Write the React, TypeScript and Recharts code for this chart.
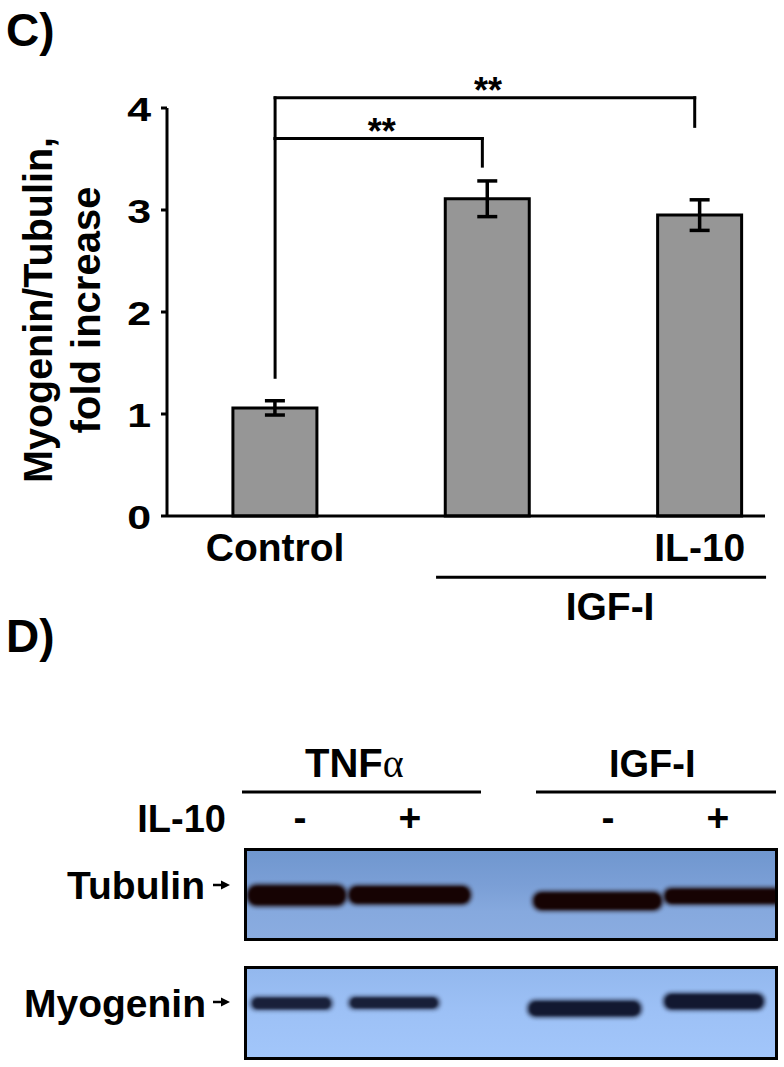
import React from "react"
import { ComposedChart, Bar, ErrorBar, XAxis, YAxis, ReferenceLine, ReferenceArea } from "recharts"

const FONT = '"Liberation Sans", Arial, Helvetica, sans-serif'

// panel C: myogenin / tubulin, fold increase
const groups = ["Control", "IGF-I", "IGF-I + IL-10"]
const tickLabels = ["Control", "", "IL-10"]
const foldIncrease = [1.06, 3.11, 2.95]
const foldErr = [0.07, 0.175, 0.15]
const yTicks = [0, 1, 2, 3, 4]

// significance brackets (y in fold units, x in group index)
const bracketRise = [1.36, 3.7]
const bracketTop = [3.7, 4.1]
const bracketEnd = [0.976, 1.976]
const bracketDrop = [3.43, 3.82]
const bracketStars = ["**", "**"]

// panel D: western blot, lanes
const laneTreatment = ["TNFα", "TNFα", "IGF-I", "IGF-I"]
const laneIL10 = ["-", "+", "-", "+"]
const lanePos = [0, 1, 2.8, 3.8]

// band extents: x in lane units, y in % of strip height from the top
const tubulinX1 = [-0.49, 0.43, 2.11, 3.3]
const tubulinX2 = [0.43, 1.56, 3.3, 4.4]
const tubulinY1 = [38, 39, 46, 42]
const tubulinY2 = [64, 62, 69, 62]
const tubulinDensity = [1, 1, 1, 1]

const myogeninX1 = [-0.455, 0.436, 2.064, 3.3]
const myogeninX2 = [0.3, 1.273, 3.109, 4.227]
const myogeninY1 = [31, 31, 35, 27]
const myogeninY2 = [47, 46, 55, 47]
const myogeninDensity = [0.82, 0.84, 0.97, 1]

const barData = groups.map((g, i) => ({ pos: i, name: g, value: foldIncrease[i], err: foldErr[i] }))
const laneData = lanePos.map((p, i) => ({ pos: p, il10: laneIL10[i], treatment: laneTreatment[i] }))

const TXT = { fontFamily: FONT, fontWeight: 700, fill: "#000" }

function XTick({ x, y, payload }: any) {
  return (
    <text x={x} y={y + 45} textAnchor="middle" fontSize={39} {...TXT}>
      {tickLabels[payload.value]}
    </text>
  )
}

function YTick({ x, y, payload }: any) {
  return (
    <text transform={`translate(${x},${y}) scale(1.3,1)`} textAnchor="end" dy="0.4em" fontSize={33} {...TXT}>
      {payload.value}
    </text>
  )
}

const renderYLabel = () => (
  <g fontSize={40} {...TXT}>
    <text x={52} y={310} transform="rotate(-90 52 310)" textAnchor="middle" textLength={346} lengthAdjust="spacingAndGlyphs">
      Myogenin/Tubulin,
    </text>
    <text x={100} y={310} transform="rotate(-90 100 310)" textAnchor="middle">
      fold increase
    </text>
  </g>
)

const starLabel = (s: string) => (p: any) => {
  const vb = p.viewBox || {}
  return (
    <text x={vb.x + vb.width / 2 + 3} y={vb.y + 5} textAnchor="middle" fontSize={36} {...TXT}>
      {s}
    </text>
  )
}

const groupLabel = (p: any) => {
  const vb = p.viewBox || {}
  return (
    <text x={vb.x + vb.width / 2 + 9} y={vb.y + 43} textAnchor="middle" fontSize={39} {...TXT}>
      IGF-I
    </text>
  )
}

const LINE = { stroke: "#000", strokeWidth: 3, strokeLinecap: "square" as const, ifOverflow: "visible" as const }

function Band({ x, y, width, height, density, color }: any) {
  if (x == null) return null
  return (
    <g>
      <rect x={x} y={y} width={width} height={height} rx={height / 2.2} fill={color} opacity={0.85 * density} style={{ filter: "blur(2px)" }} />
      <rect x={x + 3} y={y + height * 0.12} width={width - 6} height={height * 0.76} rx={height * 0.35} fill={color} opacity={density} style={{ filter: "blur(1px)" }} />
    </g>
  )
}

function Strip({ top, height, x1s, x2s, y1s, y2s, dens, bg, color }: any) {
  return (
    <div style={{ position: "absolute", left: 244, top, width: 528, height, border: "3px solid #000", background: bg, overflow: "hidden" }}>
      <ComposedChart width={528} height={height} data={laneData} margin={{ top: 0, right: 0, bottom: 0, left: 0 }}>
        <XAxis type="number" dataKey="pos" domain={[-0.482, 4.318]} hide allowDataOverflow />
        <YAxis type="number" domain={[0, 100]} reversed hide allowDataOverflow />
        {x1s.map((x1: number, i: number) => (
          <ReferenceArea
            key={i}
            x1={x1}
            x2={x2s[i]}
            y1={y1s[i]}
            y2={y2s[i]}
            ifOverflow="hidden"
            shape={(p: any) => <Band {...p} density={dens[i]} color={color} />}
          />
        ))}
      </ComposedChart>
    </div>
  )
}

const laneX = (p: number) => 300 + 110 * p

export default function App() {
  return (
    <div style={{ position: "absolute", left: 0, top: 0, width: 784, height: 1067, background: "#fff", overflow: "hidden" }}>
      <div style={{ position: "absolute", left: 0, top: 0 }}>
        <ComposedChart width={784} height={650} data={barData} margin={{ top: 108, right: 19, bottom: 70, left: 0 }}>
          <XAxis
            type="number"
            dataKey="pos"
            domain={[-0.509, 2.307]}
            ticks={[0, 1, 2]}
            interval={0}
            allowDataOverflow
            axisLine={{ stroke: "#000", strokeWidth: 3 }}
            tickLine={false}
            tickSize={0}
            tickMargin={0}
            height={64}
            tick={<XTick />}
          />
          <YAxis
            type="number"
            domain={[0, 4]}
            ticks={yTicks}
            interval={0}
            width={167}
            axisLine={{ stroke: "#000", strokeWidth: 3 }}
            tickLine={{ stroke: "#000", strokeWidth: 3 }}
            tickSize={6}
            tickMargin={10}
            tick={<YTick />}
            label={renderYLabel}
          />
          <Bar dataKey="value" barSize={84} fill="#969696" stroke="#000" strokeWidth={3} isAnimationActive={false}>
            <ErrorBar dataKey="err" width={10} stroke="#000" strokeWidth={3.5} direction="y" />
          </Bar>
          {bracketTop.map((t, i) => (
            <React.Fragment key={i}>
              <ReferenceLine {...LINE} segment={[{ x: 0, y: bracketRise[i] }, { x: 0, y: t }]} />
              <ReferenceLine {...LINE} segment={[{ x: 0, y: t }, { x: bracketEnd[i], y: t }]} label={starLabel(bracketStars[i])} />
              <ReferenceLine {...LINE} segment={[{ x: bracketEnd[i], y: t }, { x: bracketEnd[i], y: bracketDrop[i] }]} />
            </React.Fragment>
          ))}
          <ReferenceLine
            stroke="#000"
            strokeWidth={3}
            ifOverflow="visible"
            segment={[{ x: 0.758, y: -0.6 }, { x: 2.312, y: -0.6 }]}
            label={groupLabel}
          />
        </ComposedChart>
      </div>

      <Strip top={848} height={87} x1s={tubulinX1} x2s={tubulinX2} y1s={tubulinY1} y2s={tubulinY2} dens={tubulinDensity}
        bg="linear-gradient(180deg, #7097cf 0%, #7b9fd6 40%, #86a9de 70%, #8aace0 100%)" color="#160303" />
      <Strip top={966} height={88} x1s={myogeninX1} x2s={myogeninX2} y1s={myogeninY1} y2s={myogeninY2} dens={myogeninDensity}
        bg="linear-gradient(180deg, #93b8ee 0%, #9dc1f6 50%, #a2c6fa 100%)" color="#121830" />

      <svg width={784} height={1067} style={{ position: "absolute", left: 0, top: 0, pointerEvents: "none" }}>
        <text x={6} y={46} fontSize={46} {...TXT}>C)</text>
        <text x={6} y={652} fontSize={46} {...TXT}>D)</text>

        <text x={305} y={777} fontSize={40} {...TXT}>
          TNF<tspan fontFamily='"Liberation Serif", "DejaVu Serif", serif' fontWeight={400}>α</tspan>
        </text>
        <line x1={242} x2={481} y1={792} y2={792} stroke="#000" strokeWidth={3} />
        <text x={609} y={777} fontSize={38} {...TXT}>IGF-I</text>
        <line x1={536} x2={776} y1={792} y2={792} stroke="#000" strokeWidth={3} />

        <text x={226} y={832} textAnchor="end" fontSize={38} {...TXT}>IL-10</text>
        {laneData.map((l, i) => (
          <text key={i} x={laneX(l.pos)} y={831} textAnchor="middle" fontSize={39} {...TXT}>{l.il10}</text>
        ))}

        <text x={205} y={899} textAnchor="end" fontSize={39} {...TXT}>Tubulin</text>
        <line x1={213} x2={223} y1={885} y2={885} stroke="#000" strokeWidth={2.5} />
        <polygon points="221,880.5 230,885 221,889.5" fill="#000" />

        <text x={206} y={1017} textAnchor="end" fontSize={39} {...TXT}>Myogenin</text>
        <line x1={213} x2={223} y1={1002} y2={1002} stroke="#000" strokeWidth={2.5} />
        <polygon points="221,997.5 230,1002 221,1006.5" fill="#000" />
      </svg>
    </div>
  )
}
